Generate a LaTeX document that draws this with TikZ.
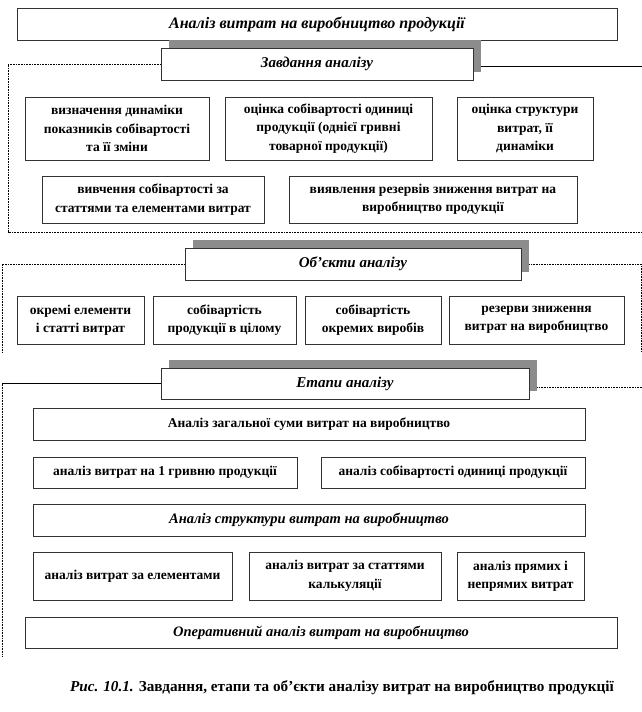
\documentclass[tikz,border=0pt]{standalone}
\usepackage{fontspec}
\setmainfont{Liberation Serif}
\usetikzlibrary{positioning,shadows}
\tikzset{
  box/.style={draw=black!80, fill=white, line width=0.6pt, align=center, inner sep=2pt, font=\bfseries\fontsize{13.5}{18.5}\selectfont, general shadow={shadow xshift=1pt, shadow yshift=-1pt, fill=black!30}},
  itbox/.style={box, font=\bfseries\itshape\fontsize{14.5}{18.5}\selectfont},
  titlebox/.style={box, font=\bfseries\itshape\fontsize{16}{19}\selectfont},
  headbox/.style={draw=black!80, fill=white, line width=0.6pt, align=center, inner sep=2pt, font=\bfseries\itshape\fontsize{15}{18}\selectfont, general shadow={shadow xshift=8pt, shadow yshift=8pt, fill=black!45}},
  frameline/.style={line width=0.7pt, dash pattern=on 0.8pt off 0.8pt},
  solidline/.style={line width=0.7pt}
}
\begin{document}
\begin{tikzpicture}[x=1pt, y=-1pt]
\useasboundingbox (0,0) rectangle (642,712);
\node[titlebox, minimum width=600pt, minimum height=32pt] (title) at (317,24) {Аналіз витрат на виробництво продукції};
% завдання
\node[headbox, minimum width=312pt, minimum height=32pt] (tasks) at (317,64) {Завдання аналізу};
\coordinate (tl1) at (8,64);
\coordinate (tl2) at (8,232);
\coordinate (tl3) at (642,232);
\coordinate (tr1) at (642,66);
\draw[frameline] (tasks.west) -- (tl1) -- (tl2) -- (tl3);
\draw[solidline] ([xshift=8pt,yshift=-2pt]tasks.east) -- (tr1);
\node[box, minimum width=184pt, minimum height=63pt] (t1) at (117,128.5) {визначення динаміки\\показників  собівартості\\та її зміни};
\node[box, minimum width=207pt, minimum height=63pt] (t2) at (328.5,128.5) {оцінка  собівартості одиниці\\продукції  (однієї гривні\\товарної продукції)};
\node[box, minimum width=136pt, minimum height=63pt] (t3) at (525,128.5) {оцінка  структури\\витрат, її\\динаміки};
\node[box, minimum width=222pt, minimum height=47pt] (t4) at (153,199.5) {вивчення собівартості за\\статтями та елементами витрат};
\node[box, minimum width=288pt, minimum height=47pt] (t5) at (433,199.5) {виявлення резервів  зниження витрат на\\виробництво  продукції};
% об'єкти
\node[headbox, minimum width=336pt, minimum height=32pt] (objects) at (353,264) {Об’єкти аналізу};
\coordinate (ol1) at (2,264);
\coordinate (ol2) at (2,352);
\coordinate (or1) at (641,264);
\coordinate (or2) at (641,352);
\draw[frameline] (objects.west) -- (ol1) -- (ol2);
\draw[frameline] ([xshift=8pt]objects.east) -- (or1) -- (or2);
\node[box, minimum width=127pt, minimum height=48pt] (o1) at (80.5,320) {окремі елементи\\і статті витрат};
\node[box, minimum width=143pt, minimum height=48pt] (o2) at (224.5,320) {собівартість\\продукції  в цілому};
\node[box, minimum width=136pt, minimum height=48pt] (o3) at (373,320) {собівартість\\окремих виробів};
\node[box, minimum width=175pt, minimum height=48pt] (o4) at (536.5,320) {резерви зниження\\витрат на виробництво};
% етапи
\node[headbox, minimum width=368pt, minimum height=31pt] (stages) at (345,383.5) {Етапи аналізу};
\coordinate (sl1) at (2,383.5);
\coordinate (sl2) at (2,657);
\coordinate (sr1) at (642,387);
\draw[solidline] (stages.west) -- (sl1);
\draw[frameline] (sl1) -- (sl2);
\draw[frameline] ([xshift=8pt,yshift=-3.5pt]stages.east) -- (sr1);
\node[box, minimum width=552pt, minimum height=32pt] (s1) at (309,424) {Аналіз  загальної суми витрат на виробництво};
\node[box, minimum width=264pt, minimum height=31pt] (s2) at (165,472.5) {аналіз витрат на 1 гривню продукції};
\node[box, minimum width=264pt, minimum height=31pt] (s3) at (453,472.5) {аналіз собівартості одиниці  продукції};
\node[itbox, minimum width=552pt, minimum height=32pt] (s4) at (309,520) {Аналіз структури витрат на виробництво};
\node[box, minimum width=199pt, minimum height=48pt] (s5) at (132.5,576) {аналіз витрат за елементами};
\node[box, minimum width=192pt, minimum height=48pt] (s6) at (345,576) {аналіз витрат за статтями\\калькуляції};
\node[box, minimum width=127pt, minimum height=48pt] (s7) at (520.5,576) {аналіз прямих і\\непрямих витрат};
\node[itbox, minimum width=592pt, minimum height=31pt] (s8) at (321,632.5) {Оперативний аналіз витрат на виробництво};
\node[font=\bfseries\fontsize{15.2}{18}\selectfont] (caption) at (342,688) {\textit{Рис. 10.1.} Завдання, етапи та об’єкти аналізу  витрат на виробництво продукції};
\end{tikzpicture}
\end{document}
